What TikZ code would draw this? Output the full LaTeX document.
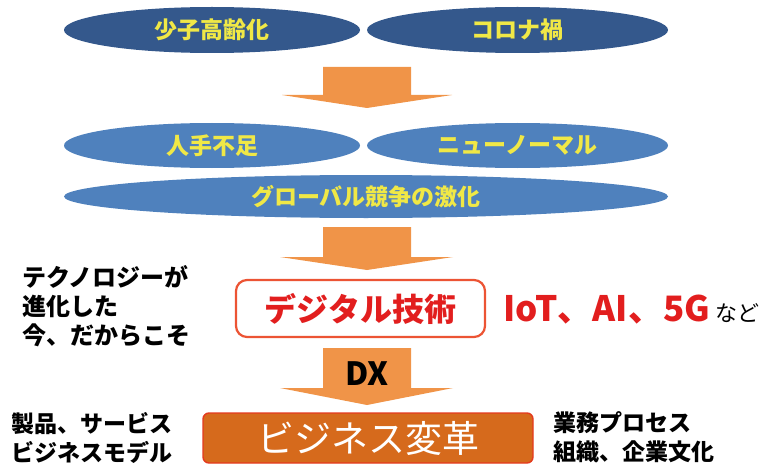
\documentclass[tikz,border=0pt]{standalone}
\usepackage{fontspec}
\setmainfont{Noto Sans CJK JP}
\usetikzlibrary{shapes.geometric}
\definecolor{darkell}{RGB}{52,88,140}
\definecolor{lightell}{RGB}{79,129,189}
\definecolor{yell}{RGB}{240,232,70}
\definecolor{arrorange}{RGB}{240,148,72}
\definecolor{boxred}{RGB}{236,84,52}
\definecolor{txtred}{RGB}{226,30,30}
\definecolor{bizfill}{RGB}{214,106,28}
\definecolor{bizedge}{RGB}{228,58,30}
\tikzset{
  ell/.style={ellipse, inner sep=0pt, text=yell, font=\fontsize{23}{23}\selectfont\bfseries},
  darkellipse/.style={ell, fill=darkell},
  lightellipse/.style={ell, fill=lightell},
  blockarrow/.style={fill=arrorange},
  sidetext/.style={anchor=west, align=left, inner sep=0pt, text=black, font=\fontsize{23}{29}\selectfont\bfseries}
}
\begin{document}
\begin{tikzpicture}[x=1pt,y=-1pt]
\useasboundingbox (0,0) rectangle (776,468);
% top row
\node[darkellipse, minimum width=296pt, minimum height=46pt] (aging) at (212,30) {少子高齢化};
\node[darkellipse, minimum width=301pt, minimum height=46pt] (corona) at (517.5,30) {コロナ禍};
% arrow 1
\fill[blockarrow] (323,67) -- (411,67) -- (411,95) -- (452,95) -- (367,108) -- (282,95) -- (323,95) -- cycle;
% second row
\node[lightellipse, minimum width=296pt, minimum height=45pt] (labor) at (212,145.5) {人手不足};
\node[lightellipse, minimum width=301pt, minimum height=45pt] (newnormal) at (517.5,145.5) {ニューノーマル};
\node[lightellipse, minimum width=604pt, minimum height=43pt] (global) at (366,196.5) {グローバル競争の激化};
% arrow 2
\fill[blockarrow] (323,227) -- (411,227) -- (411,257) -- (453,257) -- (367,270) -- (280,257) -- (323,257) -- cycle;
% digital box
\node[draw=boxred, line width=2.2pt, rounded corners=11pt, fill=white,
      minimum width=249pt, minimum height=57pt, inner sep=0pt,
      text=txtred, font=\fontsize{32}{32}\selectfont\bfseries] (digital) at (360.5,308.5) {デジタル技術};
\node[sidetext, font=\fontsize{24}{29}\selectfont\bfseries] (tech) at (22,306) {テクノロジーが\\進化した\\今、だからこそ};
\node[anchor=west, inner sep=0pt, text=txtred, font=\fontsize{35}{35}\selectfont\bfseries] (iot) at (503,310)
  {IoT、AI、5G\,{\color{black}\fontsize{22}{22}\selectfont\mdseries など}};
% DX arrow
\fill[blockarrow] (323,348) -- (411,348) -- (411,388) -- (453,388) -- (367,405) -- (280,388) -- (323,388) -- cycle;
\node[font=\fontsize{32}{32}\selectfont\bfseries, inner sep=0pt] (dx) at (367,374) {DX};
% business box
\node[draw=bizedge, line width=1.4pt, fill=bizfill, rounded corners=6pt,
      minimum width=330pt, minimum height=50pt, inner sep=0pt,
      text=white, font=\fontsize{37}{37}\selectfont] (biz) at (368,438) {ビジネス変革};
\node[sidetext] (prod) at (11,437.5) {製品、サービス\\ビジネスモデル};
\node[sidetext] (proc) at (553,437.5) {業務プロセス\\組織、企業文化};
\end{tikzpicture}
\end{document}
